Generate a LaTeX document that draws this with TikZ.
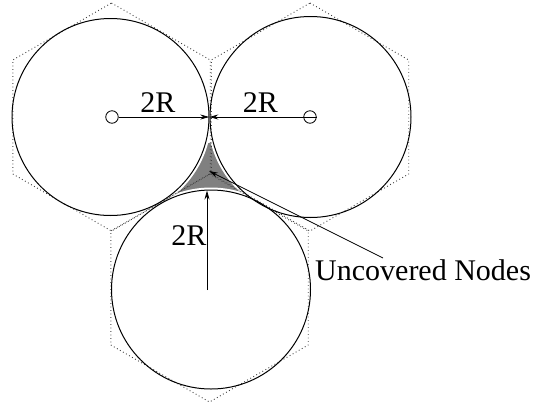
\documentclass[tikz,border=0pt]{standalone}
\usepackage{fontspec}
\setmainfont{Liberation Serif}
\usetikzlibrary{arrows.meta,calc}
\tikzset{
  disc/.style={line width=1pt},
  hexdot/.style={line width=0.9pt, black!75, dash pattern=on 0.9pt off 2.6pt},
  dimarrow/.style={line width=0.8pt, -{Stealth[length=9pt,width=5pt]}},
  lbl/.style={inner sep=0pt, anchor=base, font=\fontsize{30pt}{30pt}\selectfont},
  hub/.style={circle, draw, line width=0.8pt, minimum size=12.5pt, inner sep=0pt}
}
\begin{document}
\begin{tikzpicture}[x=1pt,y=-1pt]
\useasboundingbox (0,0) rectangle (533,405);
% centres
\coordinate (c1) at (110.5,117);
\coordinate (c2) at (310.5,117);
\coordinate (c3) at (211,289.5);
\coordinate (h1) at (111.5,117);
\coordinate (h2) at (310,117);
\coordinate (h3) at (209.5,288);
% uncovered (gray) region
\begin{scope}
  \clip (177,143) rectangle (243,200);
  \fill[black!50] (177,143) rectangle (243,200);
  \fill[white] (c1) circle[radius=101];
  \fill[white] (c2) circle[radius=103];
  \fill[white] (c3) circle[radius=102];
\end{scope}
% hexagons
\foreach \h in {h1,h2,h3}{
  \draw[hexdot, shift={(\h)}] (0,-114) -- (98.7,-57) -- (98.7,57) -- (0,114) -- (-98.7,57) -- (-98.7,-57) -- cycle;
}
% circles
\draw[disc] (c1) circle[radius=98.5];
\draw[disc] (c2) circle[radius=100.5];
\draw[disc] (c3) circle[radius=99.5];
% contact points and arrow ends
\coordinate (t12) at (209.3,117);
\coordinate (t3) at (207,190.5);
\coordinate (b3) at (207,290);
\coordinate (tip) at (209,171);
\coordinate (tail) at (383,258);
% hubs
\node[hub, fill=white] (p1) at (112,117) {};
\node[hub] (p2) at (310,117) {};
\draw[dimarrow] (p1.east) -- (t12);
\draw[dimarrow] (p2.east) -- (t12);
\draw[dimarrow] (b3) -- (t3);
% labels
\node[lbl] (l1) at (158,112) {2R};
\node[lbl] (l2) at (260.5,112) {2R};
\node[lbl] (l3) at (189,245) {2R};
\node[lbl, anchor=base west] (unc) at (315,280) {Uncovered Nodes};
\draw[dimarrow] (tail) -- (tip);
\end{tikzpicture}
\end{document}
